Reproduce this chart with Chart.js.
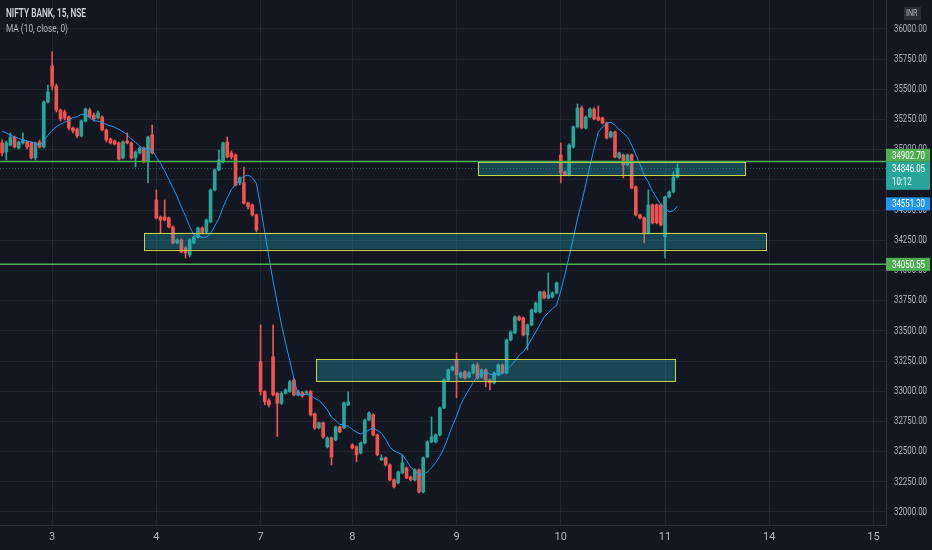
<!DOCTYPE html>
<html>
<head>
<meta charset="utf-8">
<script src="https://cdn.jsdelivr.net/npm/chart.js@4.4.1/dist/chart.umd.min.js"></script>
<style>
  html, body { margin: 0; padding: 0; background: #131722; }
  #wrap { width: 932px; height: 550px; }
</style>
</head>
<body>
<div id="wrap"><canvas id="chart" width="932" height="550"></canvas></div>
<script>
// 15 min candles (index 0 = first visible bar)
const opens = [
  35056, 34981, 35039, 35106, 35014, 35056, 35064, 35056, 34932, 35064,
  35023, 35396, 35694, 35528, 35329, 35313, 35271, 35180, 35172, 35114,
  35238, 35329, 35288, 35263, 35271, 35164, 35089, 35073, 35056, 34932,
  35073, 35056, 34932, 34973, 35014, 34899, 35122, 34584, 34443, 34443,
  34435, 34360, 34228, 34253, 34186, 34128, 34228, 34278, 34352, 34319,
  34402, 34667, 34832, 34899, 35064, 34973, 34957, 34725, 34725, 34559,
  34543, 34460, 33245, 32997, 32922, 33286, 32983, 32900, 32983, 32997,
  33094, 32969, 32989, 32983, 32997, 32812, 32696, 32738, 32539, 32613,
  32597, 32704, 32696, 32887, 32555, 32539, 32489, 32572, 32762, 32804,
  32638, 32431, 32448, 32390, 32266, 32241, 32324, 32365, 32290, 32266,
  32348, 32166, 32456, 32580, 32580, 32638, 32862, 33094, 33176, 33259,
  33118, 33160, 33118, 33151, 33218, 33118, 33176, 33094, 33069, 33135,
  33218, 33151, 33425, 33483, 33615, 33607, 33466, 33549, 33657, 33657,
  33822, 33772, 33780, 33814, 34957, 34816, 34791, 35023, 35189, 35346,
  35180, 35271, 35337, 35271, 35263, 35222, 35106, 35147, 34932, 34957,
  34874, 34957, 34692, 34460, 34435, 34311, 34543, 34543, 34543, 34278,
  34609, 34650, 34774
];
const highs = [
  35081, 35072, 35139, 35114, 35072, 35139, 35072, 35064, 35064, 35081,
  35404, 35536, 35810, 35545, 35337, 35329, 35280, 35188, 35180, 35246,
  35346, 35346, 35304, 35321, 35280, 35172, 35097, 35081, 35064, 35073,
  35139, 35064, 34990, 35023, 35023, 35114, 35205, 34667, 34452, 34584,
  34443, 34369, 34261, 34261, 34195, 34261, 34286, 34360, 34360, 34427,
  34675, 34840, 34998, 35064, 35106, 34990, 34965, 34775, 34857, 34567,
  34551, 34468, 33549, 33005, 32940, 33549, 32990, 32995, 33020, 33090,
  33105, 33010, 33000, 33005, 33005, 32820, 32745, 32745, 32622, 32622,
  32712, 32712, 32912, 32994, 32565, 32547, 32580, 32770, 32830, 32812,
  32647, 32473, 32456, 32398, 32275, 32340, 32473, 32373, 32298, 32357,
  32357, 32456, 32590, 32787, 32647, 32870, 33102, 33185, 33210, 33317,
  33160, 33168, 33160, 33226, 33235, 33185, 33185, 33102, 33160, 33226,
  33226, 33433, 33500, 33624, 33624, 33615, 33557, 33681, 33740, 33830,
  33830, 33980, 33822, 33905, 35056, 34825, 35048, 35197, 35379, 35362,
  35280, 35346, 35346, 35362, 35271, 35230, 35155, 35155, 34981, 34965,
  34965, 34965, 34700, 34468, 34443, 34667, 34551, 34551, 34551, 34617,
  34659, 34816, 34882
];
const lows = [
  34948, 34915, 35031, 35014, 35006, 35047, 35006, 34923, 34915, 35014,
  35014, 35387, 35495, 35312, 35238, 35246, 35164, 35139, 35097, 35106,
  35230, 35263, 35238, 35255, 35155, 35064, 35047, 35039, 34915, 34923,
  35048, 34923, 34857, 34965, 34890, 34725, 34965, 34426, 34311, 34410,
  34352, 34220, 34220, 34145, 34104, 34112, 34220, 34269, 34302, 34311,
  34394, 34659, 34824, 34890, 34932, 34923, 34700, 34708, 34550, 34510,
  34451, 34319, 32969, 32887, 32870, 32960, 32624, 32890, 32975, 32990,
  32960, 32960, 32950, 32975, 32795, 32685, 32688, 32610, 32530, 32390,
  32588, 32655, 32688, 32880, 32520, 32415, 32480, 32564, 32755, 32630,
  32465, 32425, 32380, 32258, 32200, 32233, 32315, 32275, 32258, 32258,
  32158, 32158, 32448, 32572, 32572, 32630, 32855, 33085, 33168, 32945,
  33110, 33100, 33110, 33143, 33100, 33110, 33036, 33011, 33060, 33127,
  33143, 33143, 33417, 33475, 33582, 33458, 33342, 33541, 33648, 33648,
  33764, 33764, 33772, 33806, 34725, 34783, 34783, 35014, 35180, 35172,
  35172, 35263, 35246, 35238, 35213, 35089, 35097, 34932, 34923, 34766,
  34866, 34675, 34451, 34426, 34228, 34302, 34385, 34385, 34369, 34104,
  34600, 34642, 34766
];
const closes = [
  34973, 35056, 35106, 35023, 35064, 35081, 35023, 34932, 35056, 35023,
  35396, 35478, 35528, 35329, 35255, 35263, 35180, 35155, 35114, 35238,
  35337, 35271, 35255, 35304, 35164, 35081, 35056, 35048, 34923, 35064,
  35056, 34932, 34981, 35014, 34899, 35106, 34973, 34435, 34418, 34418,
  34360, 34228, 34253, 34153, 34145, 34253, 34278, 34352, 34311, 34418,
  34667, 34832, 34915, 35056, 34940, 34940, 34708, 34766, 34559, 34526,
  34460, 34335, 32997, 32914, 32887, 32969, 32900, 32983, 33011, 33080,
  32969, 32997, 32961, 32997, 32804, 32696, 32738, 32622, 32613, 32456,
  32704, 32663, 32903, 32911, 32531, 32473, 32572, 32762, 32820, 32638,
  32473, 32448, 32390, 32266, 32208, 32332, 32407, 32282, 32266, 32348,
  32166, 32448, 32580, 32622, 32638, 32862, 33094, 33176, 33201, 33135,
  33151, 33110, 33151, 33218, 33110, 33176, 33094, 33069, 33151, 33218,
  33151, 33425, 33491, 33615, 33590, 33466, 33549, 33673, 33731, 33822,
  33772, 33797, 33814, 33897, 34808, 34791, 35039, 35189, 35346, 35180,
  35271, 35337, 35255, 35246, 35222, 35097, 35147, 34940, 34973, 34874,
  34957, 34683, 34460, 34435, 34311, 34543, 34394, 34394, 34377, 34609,
  34650, 34774, 34846.05
];
// MA(10) values for the first bars, whose window starts off screen
const maStart = [35155, 35139, 35122, 35106, 35093, 35081, 35073, 35064, 35056];

const dayStarts = [12, 37, 62, 84, 109, 134, 159, 184, 209];
const dayLabels = ['3', '4', '7', '8', '9', '10', '11', '14', '15'];
const priceTicks = [32000, 32250, 32500, 32750, 33000, 33250, 33500, 33750, 34000,
  34250, 34500, 34750, 35000, 35250, 35500, 35750, 36000];

const levels = [34902.70, 34050.55];
const zoneFrom = [34.1, 75.3, 114.1];
const zoneTo = [183.2, 161.4, 178.2];
const zoneHigh = [34313, 33265, 34895];
const zoneLow = [34176, 33085, 34790];
const lastPrice = 34846.05;
const countdown = '10:12';
const maLabel = 34551.30;

const FONT = 'Roboto, "Noto Sans", sans-serif';
const UP = '#26a69a', DOWN = '#ef5350';
const GRID = 'rgba(54, 60, 78, 0.4)';

const idx = closes.map((c, i) => i);
const colors = closes.map((c, i) => c >= opens[i] ? UP : DOWN);
const ma = idx.map(i => {
  if (i < 9) return maStart[i];
  let s = 0;
  for (let k = i - 9; k <= i; k++) s += closes[k];
  return s / 10;
});

// the screenshot text is narrow, so squeeze it horizontally
function narrowText(ctx, text, x, y, sx) {
  ctx.save();
  ctx.translate(x, y);
  ctx.scale(sx, 1);
  ctx.fillText(text, 0, 0);
  ctx.restore();
}

const drawingsPlugin = {
  id: 'drawings',
  afterDatasetsDraw(chart) {
    const { ctx, chartArea: a, scales: { x, y } } = chart;
    ctx.save();
    ctx.beginPath();
    ctx.rect(a.left, a.top, a.right - a.left, a.bottom - a.top);
    ctx.clip();

    // last price line
    const py = Math.round(y.getPixelForValue(lastPrice)) + 0.5;
    ctx.strokeStyle = 'rgba(38, 166, 154, 0.5)';
    ctx.lineWidth = 1;
    ctx.setLineDash([1, 2]);
    ctx.beginPath();
    ctx.moveTo(a.left, py);
    ctx.lineTo(a.right, py);
    ctx.stroke();
    ctx.setLineDash([]);

    for (let k = 0; k < zoneFrom.length; k++) {
      const x1 = x.getPixelForValue(zoneFrom[k]);
      const x2 = x.getPixelForValue(zoneTo[k]);
      const y1 = y.getPixelForValue(zoneHigh[k]);
      const y2 = y.getPixelForValue(zoneLow[k]);
      ctx.fillStyle = 'rgba(38, 170, 190, 0.32)';
      ctx.fillRect(x1, y1, x2 - x1, y2 - y1);
      ctx.strokeStyle = '#c9d43f';
      ctx.lineWidth = 1;
      ctx.strokeRect(Math.round(x1) + 0.5, Math.round(y1) + 0.5, Math.round(x2 - x1), Math.round(y2 - y1));
    }

    ctx.strokeStyle = '#4caf50';
    ctx.lineWidth = 1.5;
    levels.forEach(v => {
      const ly = y.getPixelForValue(v);
      ctx.beginPath();
      ctx.moveTo(a.left, ly);
      ctx.lineTo(a.right, ly);
      ctx.stroke();
    });
    ctx.restore();
  },
  afterDraw(chart) {
    const { ctx, chartArea: a, scales: { y } } = chart;
    ctx.save();
    ctx.textBaseline = 'middle';
    ctx.textAlign = 'left';

    // legend texts top left
    ctx.fillStyle = '#d1d4dc';
    ctx.font = '600 12px ' + FONT;
    narrowText(ctx, 'NIFTY BANK, 15, NSE', a.left + 6, 14, 80 / ctx.measureText('NIFTY BANK, 15, NSE').width);
    ctx.fillStyle = '#b2b5be';
    ctx.font = '11px ' + FONT;
    narrowText(ctx, 'MA (10, close, 0)', a.left + 6, 29, 62 / ctx.measureText('MA (10, close, 0)').width);

    // price scale labels from the scale's own ticks
    ctx.font = '11px ' + FONT;
    const sx = 33 / ctx.measureText('36000.00').width;
    ctx.fillStyle = '#b2b5be';
    y.ticks.forEach(t => {
      narrowText(ctx, t.value.toFixed(2), a.right + 8, y.getPixelForValue(t.value), sx);
    });

    // currency tag
    ctx.fillStyle = '#2a2e39';
    ctx.fillRect(904, 7, 17, 13);
    ctx.fillStyle = '#b2b5be';
    ctx.font = '9px ' + FONT;
    narrowText(ctx, 'INR', 906, 14, 0.8);

    // price tags on the axis; the last price tag stays put, the others move away from it
    const tags = [
      { v: levels[0], lines: [levels[0].toFixed(2)], bg: '#4caf50' },
      { v: lastPrice, lines: [lastPrice.toFixed(2), countdown], bg: '#26a69a' },
      { v: maLabel, lines: [maLabel.toFixed(2)], bg: '#2196f3' },
      { v: levels[1], lines: [levels[1].toFixed(2)], bg: '#4caf50' }
    ];
    tags.forEach(t => {
      t.h = t.lines.length > 1 ? 28 : 13;
      t.top = y.getPixelForValue(t.v) - 6.5;
    });
    const anchor = 1;
    for (let k = anchor - 1; k >= 0; k--) {
      if (tags[k].top + tags[k].h > tags[k + 1].top) tags[k].top = tags[k + 1].top - tags[k].h;
    }
    for (let k = anchor + 1; k < tags.length; k++) {
      const lim = tags[k - 1].top + tags[k - 1].h;
      if (tags[k].top < lim) tags[k].top = lim;
    }
    ctx.font = '11px ' + FONT;
    tags.forEach(t => {
      ctx.fillStyle = t.bg;
      ctx.fillRect(a.right, t.top, chart.width - a.right - 2, t.h);
      ctx.fillStyle = '#ffffff';
      t.lines.forEach((s, j) => narrowText(ctx, s, a.right + 6, t.top + 7 + j * 13, sx));
    });
    ctx.restore();
  }
};

new Chart(document.getElementById('chart'), {
  type: 'bar',
  data: {
    datasets: [
      {
        type: 'line',
        label: 'MA',
        data: idx.map(i => ({ x: i, y: ma[i] })),
        borderColor: '#2196f3',
        borderWidth: 1,
        pointRadius: 0,
        tension: 0,
        order: 0
      },
      {
        label: 'bodies',
        data: idx.map(i => ({ x: i, y: [opens[i], closes[i]] })),
        backgroundColor: colors,
        barThickness: 3,
        minBarLength: 1,
        order: 1
      },
      {
        label: 'wicks',
        data: idx.map(i => ({ x: i, y: [lows[i], highs[i]] })),
        backgroundColor: colors,
        barThickness: 1,
        order: 2
      }
    ]
  },
  options: {
    responsive: false,
    animation: false,
    layout: { padding: 0 },
    datasets: { bar: { grouped: false } },
    plugins: { legend: { display: false }, tooltip: { enabled: false } },
    scales: {
      x: {
        type: 'linear',
        min: -0.5,
        max: 212,
        offset: false,
        grid: { color: GRID, offset: false, drawTicks: false },
        border: { color: '#2a2e39' },
        afterBuildTicks(s) { s.ticks = dayStarts.map(v => ({ value: v })); },
        afterFit(s) { s.height = 25; },
        ticks: {
          color: '#b2b5be',
          font: { family: FONT, size: 11 },
          padding: 6,
          maxRotation: 0,
          autoSkip: false,
          callback: (v, i) => dayLabels[i]
        }
      },
      y: {
        position: 'right',
        min: 31892,
        max: 36240,
        grid: { color: GRID, drawTicks: false },
        border: { color: '#2a2e39' },
        afterBuildTicks(s) { s.ticks = priceTicks.map(v => ({ value: v })); },
        afterFit(s) { s.width = 46; },
        ticks: { display: false }
      }
    }
  },
  plugins: [drawingsPlugin]
});
</script>
</body>
</html>
